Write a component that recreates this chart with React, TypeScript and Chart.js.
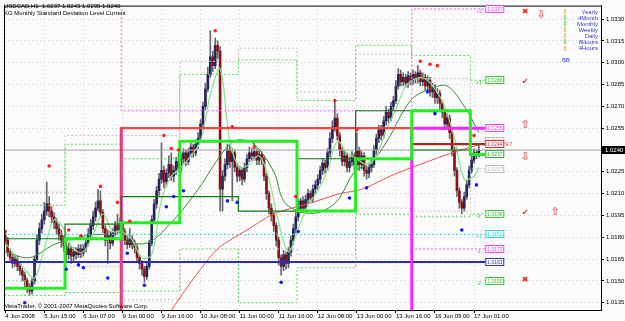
import { useEffect, useRef } from "react";
import { Chart, registerables } from "chart.js";

Chart.register(...registerables);

const SYMBOL = "USDCAD,H1";
const INDICATOR = "KG Monthly Standard Deviation Level Current";
const COPYRIGHT = "MetaTrader, \u00a9 2001-2007 MetaQuotes Software Corp.";

const X_TICK_BARS = [0, 16, 32, 48, 64, 80, 96, 112, 128, 144, 160, 176, 192];
const X_TICK_LABELS = ["4 Jun 2008", "5 Jun 15:00", "6 Jun 07:00", "9 Jun 00:00", "9 Jun 16:00", "10 Jun 08:00", "11 Jun 00:00", "11 Jun 16:00", "12 Jun 08:00", "13 Jun 00:00", "13 Jun 16:00", "16 Jun 09:00", "17 Jun 01:00"];
const Y_TICKS = [1.0135, 1.015, 1.0165, 1.018, 1.0195, 1.021, 1.0225, 1.024, 1.0255, 1.027, 1.0285, 1.03, 1.0315, 1.033];

const FIRST_OPEN = 1.0182;
const CLOSES = [
  1.0178, 1.0170, 1.0166, 1.0162, 1.0165, 1.0160, 1.0157, 1.0154, 1.0150, 1.0146,
  1.0143, 1.0150, 1.0165, 1.0178, 1.0186, 1.0192, 1.0198, 1.0203, 1.0198, 1.0194,
  1.0190, 1.0186, 1.0182, 1.0178, 1.0174, 1.0168, 1.0172, 1.0167, 1.0170, 1.0168,
  1.0172, 1.0169, 1.0172, 1.0176, 1.0182, 1.0188, 1.0194, 1.0200, 1.0205, 1.0197,
  1.0186, 1.0178, 1.0182, 1.0176, 1.0183, 1.0188, 1.0185, 1.0189, 1.0184, 1.0178,
  1.0175, 1.0179, 1.0175, 1.0173, 1.0166, 1.0162, 1.0158, 1.0153, 1.0160, 1.0176,
  1.0192, 1.0203, 1.0212, 1.0220, 1.0226, 1.0218, 1.0224, 1.0230, 1.0222, 1.0226,
  1.0232, 1.0228, 1.0234, 1.0238, 1.0232, 1.0238, 1.0242, 1.0238, 1.0244, 1.0248,
  1.0258, 1.0270, 1.0282, 1.0292, 1.0304, 1.0298, 1.0312, 1.0308, 1.0213, 1.0222,
  1.0230, 1.0240, 1.0232, 1.0238, 1.0228, 1.0222, 1.0226, 1.0220, 1.0228, 1.0234,
  1.0238, 1.0236, 1.0239, 1.0233, 1.0237, 1.0234, 1.0222, 1.0210, 1.0200, 1.0195,
  1.0188, 1.0178, 1.0166, 1.0160, 1.0168, 1.0162, 1.0170, 1.0178, 1.0186, 1.0194,
  1.0200, 1.0205, 1.0200, 1.0206, 1.0210, 1.0207, 1.0213, 1.0216, 1.0220, 1.0226,
  1.0231, 1.0228, 1.0238, 1.0248, 1.0256, 1.0262, 1.0250, 1.0240, 1.0232, 1.0236,
  1.0228, 1.0232, 1.0236, 1.0230, 1.0240, 1.0230, 1.0236, 1.0226, 1.0224, 1.0228,
  1.0230, 1.0240, 1.0248, 1.0254, 1.0250, 1.0260, 1.0266, 1.0262, 1.0270, 1.0274,
  1.0284, 1.0292, 1.0287, 1.0290, 1.0286, 1.0291, 1.0288, 1.0292, 1.0289, 1.0293,
  1.0287, 1.0290, 1.0284, 1.0288, 1.0280, 1.0283, 1.0276, 1.0279, 1.0272, 1.0266,
  1.0258, 1.0262, 1.0252, 1.0240, 1.0226, 1.0212, 1.0204, 1.0200, 1.0208, 1.0216,
  1.0226, 1.0233, 1.0238, 1.0237, 1.0240,
];
const HIGHS = [
  1.0185, 1.0180, 1.0172, 1.0168, 1.0168, 1.0167, 1.0163, 1.0159, 1.0156, 1.0152,
  1.0148, 1.0152, 1.0167, 1.0182, 1.0190, 1.0196, 1.0204, 1.0218, 1.0208, 1.0201,
  1.0197, 1.0193, 1.0189, 1.0185, 1.0181, 1.0177, 1.0176, 1.0174, 1.0173, 1.0173,
  1.0175, 1.0175, 1.0175, 1.0179, 1.0186, 1.0192, 1.0198, 1.0204, 1.0213, 1.0212,
  1.0199, 1.0188, 1.0185, 1.0184, 1.0186, 1.0191, 1.0196, 1.0193, 1.0192, 1.0186,
  1.0181, 1.0186, 1.0181, 1.0178, 1.0175, 1.0168, 1.0164, 1.0160, 1.0163, 1.0178,
  1.0195, 1.0206, 1.0215, 1.0224, 1.0245, 1.0229, 1.0227, 1.0236, 1.0238, 1.0229,
  1.0235, 1.0238, 1.0237, 1.0241, 1.0240, 1.0241, 1.0245, 1.0244, 1.0247, 1.0252,
  1.0261, 1.0273, 1.0286, 1.0297, 1.0322, 1.0308, 1.0317, 1.0315, 1.0311, 1.0226,
  1.0234, 1.0244, 1.0243, 1.0241, 1.0240, 1.0231, 1.0229, 1.0228, 1.0231, 1.0237,
  1.0242, 1.0241, 1.0245, 1.0241, 1.0240, 1.0239, 1.0236, 1.0224, 1.0212, 1.0203,
  1.0197, 1.0190, 1.0180, 1.0168, 1.0171, 1.0170, 1.0173, 1.0181, 1.0189, 1.0198,
  1.0206, 1.0207, 1.0208, 1.0209, 1.0213, 1.0212, 1.0216, 1.0219, 1.0223, 1.0229,
  1.0234, 1.0233, 1.0241, 1.0252, 1.0260, 1.0273, 1.0265, 1.0252, 1.0242, 1.0239,
  1.0238, 1.0235, 1.0239, 1.0238, 1.0252, 1.0242, 1.0239, 1.0238, 1.0229, 1.0231,
  1.0233, 1.0243, 1.0251, 1.0257, 1.0257, 1.0263, 1.0270, 1.0268, 1.0273, 1.0277,
  1.0288, 1.0296, 1.0295, 1.0293, 1.0292, 1.0294, 1.0293, 1.0295, 1.0294, 1.0298,
  1.0295, 1.0293, 1.0292, 1.0291, 1.0290, 1.0286, 1.0285, 1.0282, 1.0281, 1.0274,
  1.0268, 1.0265, 1.0264, 1.0254, 1.0242, 1.0228, 1.0214, 1.0206, 1.0211, 1.0219,
  1.0229, 1.0236, 1.0241, 1.0240, 1.0243,
];
const LOWS = [
  1.0175, 1.0167, 1.0163, 1.0159, 1.0160, 1.0157, 1.0154, 1.0150, 1.0146, 1.0142,
  1.0140, 1.0141, 1.0148, 1.0163, 1.0175, 1.0183, 1.0189, 1.0195, 1.0194, 1.0190,
  1.0186, 1.0182, 1.0178, 1.0173, 1.0170, 1.0163, 1.0165, 1.0162, 1.0164, 1.0165,
  1.0166, 1.0166, 1.0167, 1.0170, 1.0174, 1.0180, 1.0185, 1.0191, 1.0198, 1.0194,
  1.0183, 1.0174, 1.0162, 1.0172, 1.0174, 1.0181, 1.0182, 1.0183, 1.0181, 1.0175,
  1.0172, 1.0173, 1.0172, 1.0169, 1.0163, 1.0158, 1.0154, 1.0149, 1.0151, 1.0158,
  1.0174, 1.0190, 1.0200, 1.0209, 1.0217, 1.0214, 1.0215, 1.0221, 1.0219, 1.0218,
  1.0223, 1.0225, 1.0225, 1.0231, 1.0229, 1.0230, 1.0235, 1.0235, 1.0236, 1.0241,
  1.0246, 1.0256, 1.0268, 1.0280, 1.0290, 1.0294, 1.0296, 1.0303, 1.0198, 1.0198,
  1.0219, 1.0227, 1.0228, 1.0205, 1.0225, 1.0218, 1.0219, 1.0216, 1.0218, 1.0225,
  1.0232, 1.0233, 1.0233, 1.0230, 1.0230, 1.0230, 1.0219, 1.0206, 1.0196, 1.0191,
  1.0184, 1.0174, 1.0161, 1.0154, 1.0157, 1.0158, 1.0159, 1.0167, 1.0175, 1.0183,
  1.0191, 1.0197, 1.0197, 1.0197, 1.0203, 1.0204, 1.0204, 1.0210, 1.0213, 1.0217,
  1.0223, 1.0224, 1.0226, 1.0235, 1.0245, 1.0253, 1.0247, 1.0236, 1.0229, 1.0229,
  1.0225, 1.0225, 1.0229, 1.0226, 1.0227, 1.0226, 1.0227, 1.0222, 1.0220, 1.0221,
  1.0225, 1.0228, 1.0237, 1.0245, 1.0247, 1.0248, 1.0257, 1.0259, 1.0260, 1.0267,
  1.0272, 1.0282, 1.0284, 1.0284, 1.0283, 1.0283, 1.0285, 1.0285, 1.0286, 1.0286,
  1.0284, 1.0284, 1.0281, 1.0281, 1.0277, 1.0276, 1.0272, 1.0272, 1.0268, 1.0262,
  1.0254, 1.0255, 1.0248, 1.0236, 1.0222, 1.0208, 1.0200, 1.0196, 1.0198, 1.0206,
  1.0214, 1.0224, 1.0231, 1.0234, 1.0235,
];

// daily level steps (first bar of each day)
const DAY_STARTS = [0, 25, 48, 72, 96, 120, 144, 167, 191];
const DAY_LEVEL = [1.0145, 1.0179, 1.0190, 1.0246, 1.0246, 1.0198, 1.0234, 1.0267, 1.0237];
const DAY_LEVEL_PREV = [1.0179, 1.0189, 1.0208, 1.0208, 1.0198, 1.0234, 1.0267, 1.0240, 1.0237];
const DAY_UPPER = [1.0202, 1.0244, 1.0234, 1.0292, 1.0302, 1.0274, 1.0312, 1.0305, 1.0288];
const DAY_LOWER = [1.0140, 1.0142, 1.0143, 1.0172, 1.0135, 1.0159, 1.0196, 1.0194, 1.0196];
const DAY_UPPER_GRAY = [1.0211, 1.0250, 1.0250, 1.0301, 1.0310, 1.0280, 1.0306, 1.0289, 1.0246];
const DAY_LOWER_GRAY = [1.0150, 1.0160, 1.0137, 1.0165, 1.0172, 1.0168, 1.0200, 1.0198, 1.0227];

// weekly levels (first bar of week 2 and week 3)
const WEEK_STARTS = [48, 167];
const WEEK_RED = [1.0110, 1.0255, 1.0244];
const WEEK_MAGENTA = [1.0255, 1.0110, 1.0255];
const WEEK_MAG_UP = [1.0345, 1.0267, 1.0337];
const WEEK_MAG_DN = [1.0110, 1.0110, 1.0172];
const CYAN_LEVEL = 1.0182;
const BLUE_LEVEL = 1.0163;

const FAST_MA_BARS = [0, 4, 8, 12, 16, 20, 24, 28, 32, 36, 40, 44, 48, 52, 56, 60, 64, 68, 72, 76, 80, 84, 88, 92, 96, 100, 104, 108, 112, 116, 120, 124, 128, 132, 136, 140, 144, 148, 152, 156, 160, 164, 168, 172, 176, 180, 184, 188, 192, 194];
const FAST_MA = [1.0176, 1.0168, 1.0158, 1.0152, 1.0172, 1.0192, 1.0186, 1.0172, 1.0170, 1.0182, 1.0196, 1.0184, 1.0184, 1.0178, 1.0166, 1.0168, 1.0206, 1.0222, 1.0228, 1.0236, 1.0246, 1.0278, 1.0296, 1.0246, 1.0228, 1.0230, 1.0236, 1.0220, 1.0190, 1.0170, 1.0186, 1.0202, 1.0212, 1.0226, 1.0246, 1.0238, 1.0234, 1.0230, 1.0236, 1.0254, 1.0268, 1.0284, 1.0289, 1.0289, 1.0282, 1.0270, 1.0248, 1.0220, 1.0222, 1.0228];
const MED_MA_BARS = [0, 10, 20, 30, 40, 48, 58, 68, 79, 86, 92, 96, 102, 110, 114, 120, 128, 136, 143, 150, 156, 166, 174, 181, 188, 194];
const MED_MA = [1.0170, 1.0166, 1.0175, 1.0180, 1.0182, 1.0178, 1.0176, 1.0190, 1.0213, 1.0231, 1.0244, 1.0247, 1.0244, 1.0225, 1.0205, 1.0198, 1.0197, 1.0205, 1.0225, 1.0232, 1.0245, 1.0274, 1.0282, 1.0284, 1.0270, 1.0252];
const SLOW_MA_BARS = [60, 73, 80, 87, 93, 99, 110, 124, 137, 146, 159, 173, 182, 194];
const SLOW_MA = [1.0110, 1.0142, 1.0158, 1.0172, 1.0179, 1.0185, 1.0196, 1.0203, 1.0210, 1.0213, 1.0223, 1.0232, 1.02375, 1.02436];

const RED_DOT_BARS = [0, 18, 26, 31, 39, 46, 51, 65, 68, 71, 86, 93, 102, 119, 135, 144, 170, 174, 177, 192];
const RED_DOTS = [1.0184, 1.0229, 1.0185, 1.0181, 1.0215, 1.0204, 1.0191, 1.0250, 1.0241, 1.0240, 1.0322, 1.0256, 1.0242, 1.0208, 1.0274, 1.0254, 1.0301, 1.0299, 1.0298, 1.0250];
const BLUE_DOT_BARS = [8, 25, 30, 32, 42, 50, 57, 66, 69, 73, 91, 95, 113, 120, 141, 148, 173, 176, 187, 193];
const BLUE_DOTS = [1.0135, 1.0158, 1.0161, 1.0159, 1.0152, 1.0169, 1.0147, 1.0201, 1.0208, 1.0212, 1.0205, 1.0204, 1.0149, 1.0184, 1.0207, 1.0214, 1.0280, 1.0265, 1.0185, 1.0216];

const RIGHT_LABELS = [1.0337, 1.0288, 1.0255, 1.0246, 1.0244, 1.0237, 1.0227, 1.0196, 1.0182, 1.0172, 1.0163, 1.0150];
const RIGHT_LABEL_COLORS = ["#ee44ee", "#33cc33", "#ee44ee", "#bbbbbb", "#e03030", "#33aa33", "#c0c0c0", "#33cc33", "#22dddd", "#ee44ee", "#3333bb", "#33cc33"];
const SIGMA_TAGS = ["+2", "+1", "", "", "", "", "", "-1", "+1", "-1", "", "-2"];

const LEGEND_NAMES = ["Yearly", "4Month", "Monthly", "Weekly", "Daily", "8Hours", "4Hours"];
const LEGEND_ICON_COLORS = ["#f0a040", "#44cc44", "#44cc44", "#f0a040", "#f0a040", "#44cc44", "#f0a040"];

const SIGNAL_CHARS = ["\u2716", "\u21e9", "\u2714", "\u21e7", "\u21e9", "\u2714", "\u21e7", "\u2716"];
const SIGNAL_PRICES = [1.0335, 1.0333, 1.0287, 1.0257, 1.0235, 1.0197, 1.0197, 1.0151];
const SIGNAL_COLUMNS = [0, 1, 0, 0, 0, 0, 2, 0];

const LABEL_BAR = 196.6;
const X_MIN = -0.5;
const X_MAX = 244;
const Y_MIN = 1.013;
const Y_MAX = 1.03393;

function steps(starts: number[], levels: number[], endX: number, pre?: number) {
  const pts: { x: number; y: number }[] = [];
  if (pre !== undefined) pts.push({ x: starts[0] - 0.5, y: pre });
  starts.forEach((s, k) => {
    const x1 = k + 1 < starts.length ? starts[k + 1] - 0.5 : endX;
    pts.push({ x: s - 0.5, y: levels[k] }, { x: x1, y: levels[k] });
  });
  return pts;
}

function series(xs: number[], ys: number[]) {
  return xs.map((x, i) => ({ x, y: ys[i] }));
}

const FONT = '"Liberation Sans", Arial, sans-serif';

const overlay = {
  id: "overlay",
  beforeDraw(chart: any) {
    const { ctx, width, height } = chart;
    ctx.save();
    ctx.fillStyle = "#fbfbfb";
    ctx.fillRect(0, 0, width, height);
    ctx.restore();
  },
  afterDraw(chart: any) {
    const { ctx, chartArea: a, scales } = chart;
    const xs = scales.x;
    const ys = scales.y;
    ctx.save();
    ctx.strokeStyle = "#000";
    ctx.lineWidth = 1;
    ctx.beginPath();
    ctx.moveTo(a.left + 0.5, a.bottom);
    ctx.lineTo(a.left + 0.5, a.top + 0.5);
    ctx.lineTo(a.right, a.top + 0.5);
    ctx.stroke();

    const last = CLOSES.length - 1;
    const o = CLOSES[last - 1];
    ctx.fillStyle = "#000";
    ctx.textBaseline = "alphabetic";
    ctx.textAlign = "left";
    ctx.font = `6px ${FONT}`;
    ctx.fillText(`${SYMBOL}  ${o.toFixed(4)} ${HIGHS[last].toFixed(4)} ${LOWS[last].toFixed(4)} ${CLOSES[last].toFixed(4)}`, 4, 8);
    ctx.fillText(INDICATOR, 4, 14.5);
    ctx.fillText(COPYRIGHT, 4, 308);

    ctx.textAlign = "right";
    ctx.textBaseline = "middle";
    LEGEND_NAMES.forEach((n, k) => {
      const yy = 12.3 + k * 6.07;
      ctx.fillStyle = "#3a3acc";
      ctx.font = `6px ${FONT}`;
      ctx.fillText(n, 598, yy);
      ctx.fillStyle = LEGEND_ICON_COLORS[k];
      ctx.textAlign = "center";
      ctx.font = `7px "DejaVu Sans"`;
      ctx.fillText("\u21d5", 565, yy);
      ctx.textAlign = "right";
    });
    ctx.fillStyle = "#3a3acc";
    ctx.font = `6px ${FONT}`;
    ctx.textAlign = "center";
    ctx.fillText("BB", 566, 60.7);

    const cols = [525, 541, 555];
    ctx.fillStyle = "#e82828";
    SIGNAL_CHARS.forEach((c, k) => {
      const yy = ys.getPixelForValue(SIGNAL_PRICES[k]);
      ctx.font = c === "\u21e7" || c === "\u21e9" ? `11px "DejaVu Sans"` : `8px "DejaVu Sans"`;
      ctx.fillText(c, cols[SIGNAL_COLUMNS[k]], yy);
    });

    const lx = xs.getPixelForValue(LABEL_BAR);
    ctx.font = `5px ${FONT}`;
    ctx.textAlign = "left";
    RIGHT_LABELS.forEach((v, k) => {
      const yy = Math.round(ys.getPixelForValue(v));
      const col = RIGHT_LABEL_COLORS[k];
      ctx.fillStyle = "#fdfdfd";
      ctx.fillRect(lx, yy - 4, 18, 8);
      ctx.strokeStyle = col;
      ctx.lineWidth = 1;
      ctx.strokeRect(lx + 0.5, yy - 3.5, 18, 7);
      ctx.fillStyle = col;
      ctx.fillText(v.toFixed(4), lx + 2, yy + 0.5);
      if (SIGMA_TAGS[k]) {
        ctx.fillText(SIGMA_TAGS[k], lx - 9, yy + 3);
      }
    });
    ctx.fillStyle = "#e03030";
    ctx.fillText("9:7", lx + 20, ys.getPixelForValue(1.0244) + 0.5);

    const cp = ys.getPixelForValue(CLOSES[last]);
    ctx.fillStyle = "#000";
    ctx.fillRect(a.right + 1, cp - 4, 23, 8);
    ctx.fillStyle = "#fff";
    ctx.font = `6px ${FONT}`;
    ctx.textAlign = "left";
    ctx.fillText(CLOSES[last].toFixed(4), a.right + 4, cp + 0.5);
    ctx.restore();
  },
};

export default function App() {
  const ref = useRef<HTMLCanvasElement>(null);
  useEffect(() => {
    document.body.style.margin = "0";
    const canvas = ref.current!;
    const opens = CLOSES.map((c, i) => (i === 0 ? FIRST_OPEN : CLOSES[i - 1]));
    const bodyColors = CLOSES.map((c, i) => (c >= opens[i] ? "#26265e" : "#8a1414"));
    const lastBar = CLOSES.length - 1;

    const lineBase = { type: "line", pointRadius: 0, fill: false, tension: 0 };

    const datasets: any[] = [
      { type: "line", data: series(RED_DOT_BARS, RED_DOTS), showLine: false, pointRadius: 1.8, pointBackgroundColor: "#ff2222", pointBorderWidth: 0, order: 1 },
      { type: "line", data: series(BLUE_DOT_BARS, BLUE_DOTS), showLine: false, pointRadius: 1.8, pointBackgroundColor: "#1818ee", pointBorderWidth: 0, order: 1 },
      { ...lineBase, data: steps(DAY_STARTS, DAY_LEVEL, LABEL_BAR), borderColor: "#22ee22", borderWidth: 3, order: 2 },
      { ...lineBase, data: steps(DAY_STARTS, DAY_LEVEL_PREV, lastBar + 0.5), borderColor: "#117711", borderWidth: 1.2, order: 3 },
      {
        ...lineBase,
        data: steps(WEEK_STARTS, WEEK_RED.slice(1), LABEL_BAR, WEEK_RED[0]),
        borderColor: "#ee4444",
        borderWidth: 2.2,
        segment: { borderColor: (c: any) => (c.p0.parsed.x >= WEEK_STARTS[1] - 0.5 ? "#a82a1a" : "#ee4444") },
        order: 4,
      },
      { ...lineBase, data: steps(WEEK_STARTS, WEEK_MAGENTA.slice(1), LABEL_BAR, WEEK_MAGENTA[0]), borderColor: "#ff22ff", borderWidth: 3, order: 4 },
      { ...lineBase, data: steps([0], [BLUE_LEVEL], LABEL_BAR), borderColor: "#2a2ac8", borderWidth: 2, order: 5 },
      { ...lineBase, data: series(FAST_MA_BARS, FAST_MA), borderColor: "#88e488", borderWidth: 1.2, tension: 0.35, order: 6 },
      { ...lineBase, data: series(MED_MA_BARS, MED_MA), borderColor: "#3c8c3c", borderWidth: 1, tension: 0.35, order: 6 },
      { ...lineBase, data: series(SLOW_MA_BARS, SLOW_MA), borderColor: "#f05050", borderWidth: 1, tension: 0.35, order: 6 },
      { ...lineBase, data: steps(DAY_STARTS, DAY_UPPER, LABEL_BAR), borderColor: "#55dd55", borderWidth: 1, borderDash: [2, 2], order: 7 },
      { ...lineBase, data: steps(DAY_STARTS, DAY_LOWER, LABEL_BAR), borderColor: "#55dd55", borderWidth: 1, borderDash: [2, 2], order: 7 },
      { ...lineBase, data: steps(DAY_STARTS, DAY_UPPER_GRAY, LABEL_BAR), borderColor: "#c4c4c4", borderWidth: 1, borderDash: [2, 2], order: 8 },
      { ...lineBase, data: steps(DAY_STARTS, DAY_LOWER_GRAY, LABEL_BAR), borderColor: "#c4c4c4", borderWidth: 1, borderDash: [2, 2], order: 8 },
      { ...lineBase, data: steps(WEEK_STARTS, WEEK_MAG_UP.slice(1), LABEL_BAR, WEEK_MAG_UP[0]), borderColor: "#ff55ff", borderWidth: 1, borderDash: [2, 2], order: 7 },
      { ...lineBase, data: steps(WEEK_STARTS, WEEK_MAG_DN.slice(1), LABEL_BAR, WEEK_MAG_DN[0]), borderColor: "#ff55ff", borderWidth: 1, borderDash: [2, 2], order: 7 },
      { ...lineBase, data: steps([0], [CYAN_LEVEL], LABEL_BAR), borderColor: "#22e0e0", borderWidth: 1, borderDash: [2, 2], order: 7 },
      { ...lineBase, data: [{ x: X_MIN, y: CLOSES[lastBar] }, { x: X_MAX, y: CLOSES[lastBar] }], borderColor: "#a8a8a8", borderWidth: 1, order: 9 },
      {
        type: "bar",
        data: CLOSES.map((c, i) => ({ x: i, y: [opens[i], c] })),
        backgroundColor: bodyColors,
        barThickness: 2,
        minBarLength: 1,
        grouped: false,
        order: 10,
      },
      {
        type: "bar",
        data: CLOSES.map((c, i) => ({ x: i, y: [LOWS[i], HIGHS[i]] })),
        backgroundColor: "#666670",
        barThickness: 1,
        grouped: false,
        order: 11,
      },
    ];

    const chart = new Chart(canvas, {
      type: "bar",
      data: { datasets },
      options: {
        animation: false,
        responsive: false,
        devicePixelRatio: 1,
        events: [],
        layout: { padding: { left: 2, top: 2, right: 0, bottom: 0 } },
        plugins: { legend: { display: false }, tooltip: { enabled: false } },
        scales: {
          x: {
            type: "linear",
            min: X_MIN,
            max: X_MAX,
            offset: false,
            position: "bottom",
            grid: { color: "#cfcfcf", tickColor: "#000", tickLength: 3, offset: false, tickBorderDash: [] },
            border: { color: "#000", dash: [1, 3] },
            ticks: {
              autoSkip: false,
              maxRotation: 0,
              minRotation: 0,
              align: "start",
              padding: 0,
              color: "#000",
              font: { size: 6, family: FONT },
              callback: (v: any) => {
                const k = X_TICK_BARS.indexOf(Number(v));
                return k >= 0 ? X_TICK_LABELS[k] : "";
              },
            },
            afterBuildTicks: (s: any) => {
              s.ticks = X_TICK_BARS.map((v) => ({ value: v }));
            },
            afterFit: (s: any) => {
              s.height = 11;
            },
          },
          y: {
            type: "linear",
            position: "right",
            min: Y_MIN,
            max: Y_MAX,
            beginAtZero: false,
            grid: { color: "#cfcfcf", tickColor: "#000", tickLength: 3, tickBorderDash: [] },
            border: { color: "#000", dash: [1, 3] },
            ticks: {
              padding: 2,
              color: "#000",
              font: { size: 6, family: FONT },
              callback: (v: any) => Number(v).toFixed(4),
            },
            afterBuildTicks: (s: any) => {
              s.ticks = Y_TICKS.map((v) => ({ value: v }));
            },
            afterFit: (s: any) => {
              s.width = 24;
            },
          },
        },
      },
      plugins: [overlay],
    } as any);
    return () => chart.destroy();
  }, []);
  return (
    <div style={{ width: 625, height: 321 }}>
      <canvas ref={ref} width={625} height={321} style={{ display: "block" }} />
    </div>
  );
}
